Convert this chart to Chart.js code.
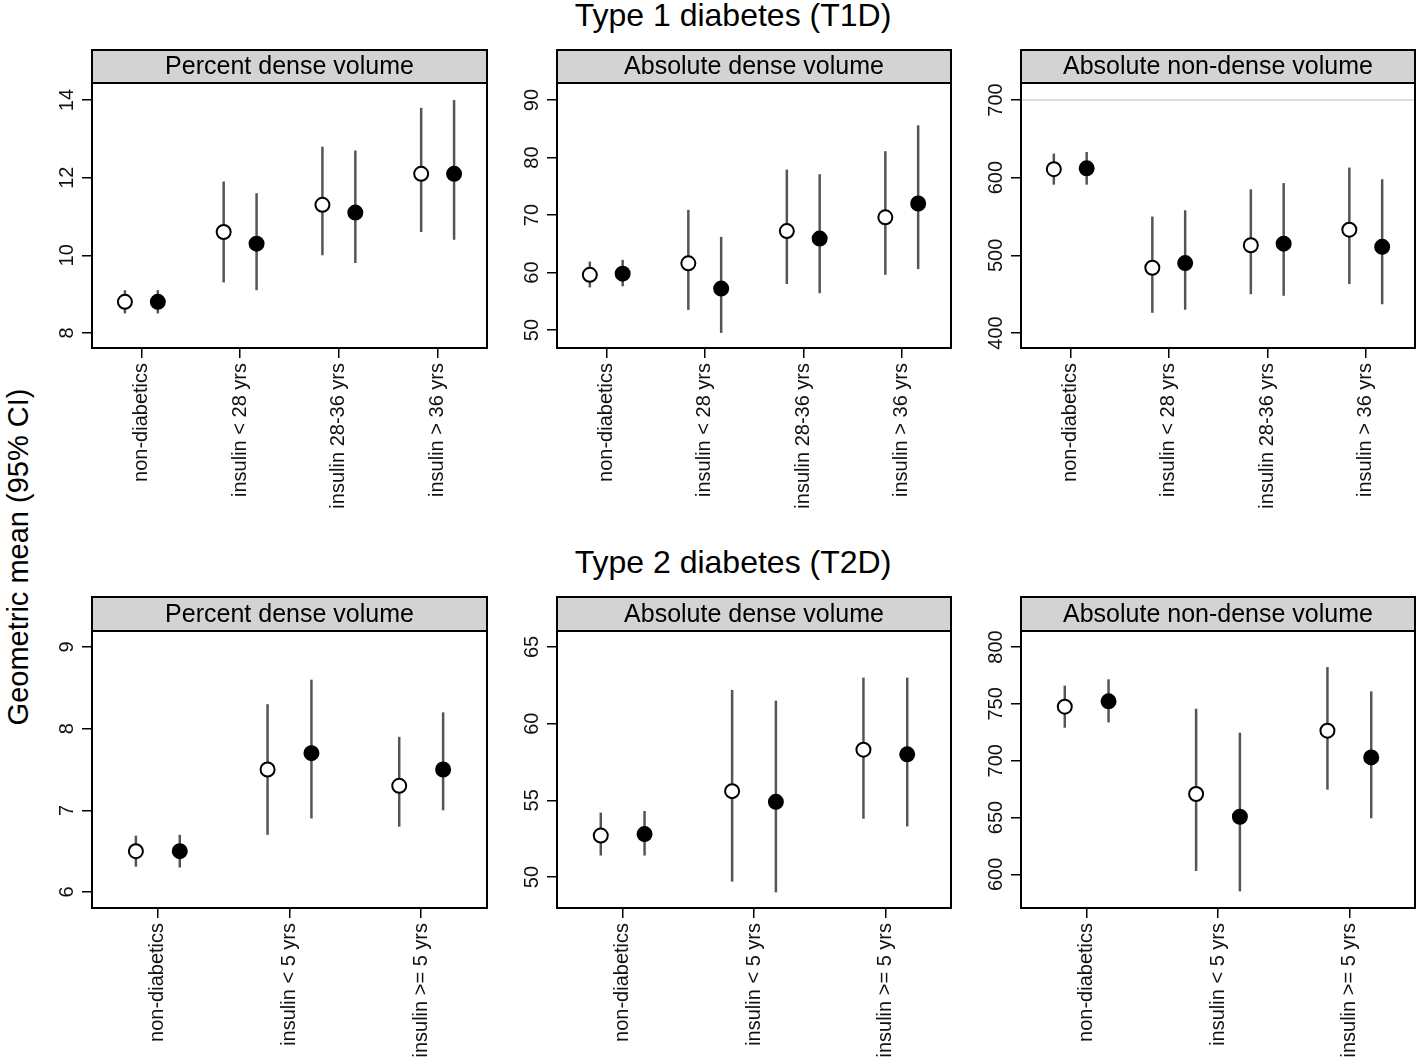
<!DOCTYPE html>
<html>
<head>
<meta charset="utf-8">
<script src="https://cdn.jsdelivr.net/npm/chart.js@4.4.1/dist/chart.umd.min.js"></script>
<style>
  html, body { margin: 0; padding: 0; background: #fff; }
  body { width: 1418px; height: 1059px; position: relative; overflow: hidden; font-family: "Liberation Sans", Arial, sans-serif; }
  canvas { position: absolute; }
  .title { position: absolute; width: 600px; text-align: center; font-size: 32px; color: #000; line-height: 36px; }
  .ylab { position: absolute; width: 500px; text-align: center; font-size: 29px; line-height: 32px; color: #000; transform: rotate(-90deg); }
</style>
</head>
<body>
<div class="title" style="left:433px; top:-3px;">Type 1 diabetes (T1D)</div>
<div class="title" style="left:433px; top:544px;">Type 2 diabetes (T2D)</div>
<div class="ylab" style="left:-232px; top:541px;">Geometric mean (95% CI)</div>

<canvas id="c0"></canvas>
<canvas id="c1"></canvas>
<canvas id="c2"></canvas>
<canvas id="c3"></canvas>
<canvas id="c4"></canvas>
<canvas id="c5"></canvas>

<script>
// categories
const t1Cats = ['non-diabetics', 'insulin < 28 yrs', 'insulin 28-36 yrs', 'insulin > 36 yrs'];
const t2Cats = ['non-diabetics', 'insulin < 5 yrs', 'insulin >= 5 yrs'];

// T1D percent dense volume
const pdT1Open = [8.8, 10.6, 11.3, 12.1];
const pdT1OpenLo = [8.5, 9.3, 10.0, 10.6];
const pdT1OpenHi = [9.1, 11.9, 12.8, 13.8];
const pdT1Fill = [8.8, 10.3, 11.1, 12.1];
const pdT1FillLo = [8.5, 9.1, 9.8, 10.4];
const pdT1FillHi = [9.1, 11.6, 12.7, 14.0];
const pdT1Ticks = [8, 10, 12, 14];
const pdT1Range = [7.61, 14.44];

// T1D absolute dense volume
const adT1Open = [59.6, 61.6, 67.2, 69.6];
const adT1OpenLo = [57.4, 53.5, 58.0, 59.6];
const adT1OpenHi = [61.9, 70.9, 77.9, 81.1];
const adT1Fill = [59.8, 57.2, 65.9, 72.0];
const adT1FillLo = [57.6, 49.5, 56.4, 60.6];
const adT1FillHi = [62.2, 66.2, 77.1, 85.6];
const adT1Ticks = [50, 60, 70, 80, 90];
const adT1Range = [46.87, 92.96];

// T1D absolute non-dense volume
const ndT1Open = [611, 484, 513, 533];
const ndT1OpenLo = [591, 426, 450, 463];
const ndT1OpenHi = [631, 550, 585, 613];
const ndT1Fill = [612, 490, 515, 511];
const ndT1FillLo = [591, 430, 448, 437];
const ndT1FillHi = [633, 558, 593, 598];
const ndT1Ticks = [400, 500, 600, 700];
const ndT1Range = [380.7, 721.9];
const ndT1RefLine = 700;

// T2D percent dense volume
const pdT2Open = [6.5, 7.5, 7.3];
const pdT2OpenLo = [6.31, 6.7, 6.8];
const pdT2OpenHi = [6.69, 8.3, 7.9];
const pdT2Fill = [6.5, 7.7, 7.5];
const pdT2FillLo = [6.3, 6.9, 7.0];
const pdT2FillHi = [6.7, 8.6, 8.2];
const pdT2Ticks = [6, 7, 8, 9];
const pdT2Range = [5.804, 9.196];

// T2D absolute dense volume
const adT2Open = [52.7, 55.6, 58.3];
const adT2OpenLo = [51.4, 49.7, 53.8];
const adT2OpenHi = [54.2, 62.2, 63.0];
const adT2Fill = [52.8, 54.9, 58.0];
const adT2FillLo = [51.4, 49.0, 53.3];
const adT2FillHi = [54.3, 61.5, 63.0];
const adT2Ticks = [50, 55, 60, 65];
const adT2Range = [47.98, 66.04];

// T2D absolute non-dense volume
const ndT2Open = [747.5, 670.7, 726.4];
const ndT2OpenLo = [729, 603, 674.5];
const ndT2OpenHi = [766, 745.7, 782.4];
const ndT2Fill = [752.2, 650.7, 702.9];
const ndT2FillLo = [733.7, 585, 649.3];
const ndT2FillHi = [771.6, 724.6, 761];
const ndT2Ticks = [600, 650, 700, 750, 800];
const ndT2Range = [570.4, 814.1];

const FONT = '"Liberation Sans", Arial, sans-serif';
const SHIFT = 1 / 6;

// error bars, box, strip and rotated y labels
const panelPlugin = {
  id: 'panel',
  beforeDatasetsDraw(chart) {
    const p = chart.options.plugins.panel;
    const { ctx, scales: { x, y } } = chart;
    ctx.save();
    ctx.strokeStyle = '#555';
    ctx.lineWidth = 2.5;
    p.bars.forEach(b => {
      b.lo.forEach((lo, i) => {
        const px = x.getPixelForValue(i + b.shift);
        ctx.beginPath();
        ctx.moveTo(px, y.getPixelForValue(lo));
        ctx.lineTo(px, y.getPixelForValue(b.hi[i]));
        ctx.stroke();
      });
    });
    ctx.restore();
  },
  afterDraw(chart) {
    const p = chart.options.plugins.panel;
    const { ctx, chartArea: a, scales: { y } } = chart;
    ctx.save();
    // strip
    ctx.fillStyle = '#d3d3d3';
    ctx.fillRect(a.left, 2, a.right - a.left, a.top - 2);
    ctx.strokeStyle = '#000';
    ctx.lineWidth = 2;
    ctx.strokeRect(a.left, 2, a.right - a.left, a.top - 2);
    ctx.fillStyle = '#000';
    ctx.font = '25px ' + FONT;
    ctx.textAlign = 'center';
    ctx.textBaseline = 'middle';
    ctx.fillText(p.title, (a.left + a.right) / 2, (a.top + 2) / 2 + 1);
    // box
    ctx.strokeRect(a.left, a.top, a.right - a.left, a.bottom - a.top);
    // y tick labels, rotated
    ctx.font = '20px ' + FONT;
    ctx.fillStyle = '#111';
    p.yTicks.forEach(v => {
      ctx.save();
      ctx.translate(a.left - 25, y.getPixelForValue(v));
      ctx.rotate(-Math.PI / 2);
      ctx.fillText(String(v), 0, 0);
      ctx.restore();
    });
    ctx.restore();
  }
};

function makePanel(id, box, title, cats, open, openLo, openHi, fill, fillLo, fillHi, yTicks, yRange, refLine) {
  const el = document.getElementById(id);
  el.style.left = box.left + 'px';
  el.style.top = box.top + 'px';
  el.width = box.width;
  el.height = box.height;

  const datasets = [
    {
      data: open.map((v, i) => ({ x: i - SHIFT, y: v })),
      pointRadius: 7,
      pointBorderWidth: 2,
      pointBackgroundColor: '#fff',
      pointBorderColor: '#000',
      showLine: false
    },
    {
      data: fill.map((v, i) => ({ x: i + SHIFT, y: v })),
      pointRadius: 7,
      pointBorderWidth: 2,
      pointBackgroundColor: '#000',
      pointBorderColor: '#000',
      showLine: false
    }
  ];
  if (refLine !== undefined) {
    datasets.unshift({
      type: 'line',
      data: [{ x: -0.5, y: refLine }, { x: cats.length - 0.5, y: refLine }],
      borderColor: '#dcdcdc',
      borderWidth: 2,
      pointRadius: 0
    });
  }

  new Chart(el.getContext('2d'), {
    type: 'scatter',
    data: { datasets },
    options: {
      responsive: false,
      animation: false,
      devicePixelRatio: 1,
      layout: { padding: { top: box.padTop, right: 3, left: 0, bottom: 0 } },
      plugins: {
        legend: { display: false },
        tooltip: { enabled: false },
        panel: {
          title,
          yTicks,
          bars: [
            { shift: -SHIFT, lo: openLo, hi: openHi },
            { shift: SHIFT, lo: fillLo, hi: fillHi }
          ]
        }
      },
      scales: {
        x: {
          type: 'linear',
          min: -0.5,
          max: cats.length - 0.5,
          afterBuildTicks: s => { s.ticks = cats.map((c, i) => ({ value: i })); },
          afterFit: s => { s.height = box.xAxisH; },
          ticks: {
            callback: v => cats[v],
            minRotation: 90,
            maxRotation: 90,
            autoSkip: false,
            padding: 5,
            color: '#111',
            font: { family: FONT, size: 20 }
          },
          grid: { drawOnChartArea: false, drawTicks: true, tickLength: 10, color: '#000', lineWidth: 1.5 },
          border: { display: false }
        },
        y: {
          type: 'linear',
          min: yRange[0],
          max: yRange[1],
          afterBuildTicks: s => { s.ticks = yTicks.map(v => ({ value: v })); },
          afterFit: s => { s.width = 70; },
          ticks: { callback: () => '', font: { size: 20 } },
          grid: { drawOnChartArea: false, drawTicks: true, tickLength: 10, color: '#000', lineWidth: 1.5 },
          border: { display: false }
        }
      }
    },
    plugins: [panelPlugin]
  });
}

const topRow = { top: 48, height: 460, padTop: 35, xAxisH: 160 };
const botRow = { top: 595, height: 463, padTop: 36, xAxisH: 150 };
const cols = [{ left: 22, width: 474 }, { left: 487, width: 473 }, { left: 951, width: 473 }];

makePanel('c0', { ...topRow, ...cols[0] }, 'Percent dense volume', t1Cats,
  pdT1Open, pdT1OpenLo, pdT1OpenHi, pdT1Fill, pdT1FillLo, pdT1FillHi, pdT1Ticks, pdT1Range);
makePanel('c1', { ...topRow, ...cols[1] }, 'Absolute dense volume', t1Cats,
  adT1Open, adT1OpenLo, adT1OpenHi, adT1Fill, adT1FillLo, adT1FillHi, adT1Ticks, adT1Range);
makePanel('c2', { ...topRow, ...cols[2] }, 'Absolute non-dense volume', t1Cats,
  ndT1Open, ndT1OpenLo, ndT1OpenHi, ndT1Fill, ndT1FillLo, ndT1FillHi, ndT1Ticks, ndT1Range, ndT1RefLine);
makePanel('c3', { ...botRow, ...cols[0] }, 'Percent dense volume', t2Cats,
  pdT2Open, pdT2OpenLo, pdT2OpenHi, pdT2Fill, pdT2FillLo, pdT2FillHi, pdT2Ticks, pdT2Range);
makePanel('c4', { ...botRow, ...cols[1] }, 'Absolute dense volume', t2Cats,
  adT2Open, adT2OpenLo, adT2OpenHi, adT2Fill, adT2FillLo, adT2FillHi, adT2Ticks, adT2Range);
makePanel('c5', { ...botRow, ...cols[2] }, 'Absolute non-dense volume', t2Cats,
  ndT2Open, ndT2OpenLo, ndT2OpenHi, ndT2Fill, ndT2FillLo, ndT2FillHi, ndT2Ticks, ndT2Range);
</script>
</body>
</html>
